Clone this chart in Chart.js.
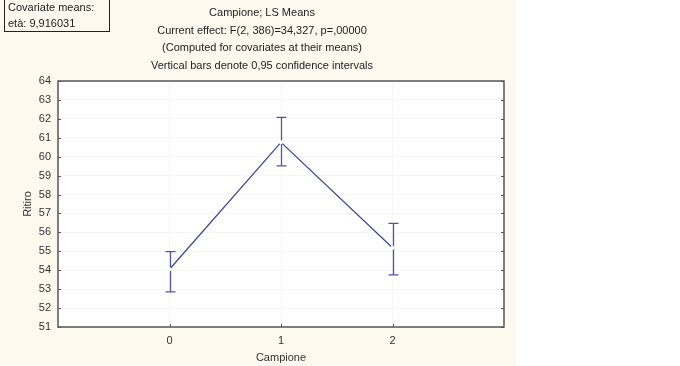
<!DOCTYPE html>
<html>
<head>
<meta charset="utf-8">
<script src="https://cdn.jsdelivr.net/npm/chart.js@4"></script>
<style>
  html, body { margin: 0; padding: 0; background: #fff; }
  canvas { display: block; }
</style>
</head>
<body>
<canvas id="chart" width="680" height="366"></canvas>
<script>
// Data
const categories = [0, 1, 2];
const means = [54.05, 60.76, 55.19];
const ciLow = [52.86, 59.51, 53.75];
const ciHigh = [54.98, 62.08, 56.48];
const yTicks = [51, 52, 53, 54, 55, 56, 57, 58, 59, 60, 61, 62, 63, 64];

const titleLines = [
  'Campione; LS Means',
  'Current effect: F(2, 386)=34,327, p=,00000',
  '(Computed for covariates at their means)',
  'Vertical bars denote 0,95 confidence intervals'
];
const noteLines = ['Covariate means:', 'età: 9,916031'];

const FONT = '11px "Liberation Sans", Arial, sans-serif';
const CREAM = '#fdf9ef';

// Background, header text and note box
const backdrop = {
  id: 'backdrop',
  beforeDraw(chart) {
    const { ctx, chartArea: a } = chart;
    ctx.save();
    ctx.fillStyle = CREAM;
    ctx.fillRect(0, 0, 516, chart.height);
    ctx.fillStyle = '#fff';
    ctx.fillRect(a.left, a.top, a.right - a.left, a.bottom - a.top);

    ctx.font = FONT;
    ctx.fillStyle = '#222';
    ctx.textAlign = 'center';
    ctx.textBaseline = 'middle';
    titleLines.forEach((t, i) => ctx.fillText(t, 262, 13 + i * 17.6));

    // covariate box
    ctx.strokeStyle = '#222';
    ctx.lineWidth = 1;
    ctx.strokeRect(4.5, -1.5, 105, 33);
    ctx.fillStyle = '#222';
    ctx.textAlign = 'left';
    noteLines.forEach((t, i) => ctx.fillText(t, 8, 8 + i * 16));
    ctx.restore();
  }
};

// Confidence interval whiskers
const whiskers = {
  id: 'whiskers',
  beforeDatasetsDraw(chart) {
    const { ctx, scales: { x, y } } = chart;
    ctx.save();
    ctx.strokeStyle = '#4d57a8';
    ctx.lineWidth = 1.3;
    categories.forEach((c, i) => {
      const px = Math.round(x.getPixelForValue(c)) + 0.5;
      const top = y.getPixelForValue(ciHigh[i]);
      const bot = y.getPixelForValue(ciLow[i]);
      ctx.beginPath();
      ctx.moveTo(px, top);
      ctx.lineTo(px, bot);
      ctx.moveTo(px - 5, top);
      ctx.lineTo(px + 5, top);
      ctx.moveTo(px - 5, bot);
      ctx.lineTo(px + 5, bot);
      ctx.stroke();
    });
    ctx.restore();
  }
};

// Plot frame and small inner tick marks
const frame = {
  id: 'frame',
  afterDraw(chart) {
    const { ctx, chartArea: a, scales: { x, y } } = chart;
    ctx.save();
    ctx.strokeStyle = '#555';
    ctx.lineWidth = 1.5;
    ctx.strokeRect(a.left, a.top, a.right - a.left, a.bottom - a.top);
    ctx.lineWidth = 1;
    ctx.beginPath();
    yTicks.forEach(v => {
      const py = Math.round(y.getPixelForValue(v)) + 0.5;
      ctx.moveTo(a.left, py); ctx.lineTo(a.left + 3, py);
      ctx.moveTo(a.right, py); ctx.lineTo(a.right - 3, py);
    });
    categories.forEach(c => {
      const px = Math.round(x.getPixelForValue(c)) + 0.5;
      ctx.moveTo(px, a.bottom); ctx.lineTo(px, a.bottom - 3);
    });
    ctx.stroke();
    ctx.restore();
  }
};

const tickFont = { family: '"Liberation Sans", Arial, sans-serif', size: 11 };

new Chart(document.getElementById('chart'), {
  type: 'line',
  data: {
    datasets: [{
      data: categories.map((c, i) => ({ x: c, y: means[i] })),
      borderColor: '#3d4a9c',
      borderWidth: 1.3,
      pointRadius: 2,
      pointBackgroundColor: '#fff',
      pointBorderWidth: 0,
      tension: 0
    }]
  },
  options: {
    responsive: false,
    devicePixelRatio: 1,
    animation: false,
    events: [],
    layout: { padding: { top: 81, right: 176, left: 0, bottom: 0 } },
    plugins: { legend: { display: false }, tooltip: { enabled: false } },
    scales: {
      x: {
        type: 'linear',
        min: -1,
        max: 3,
        afterBuildTicks: (s) => { s.ticks = categories.map(v => ({ value: v })); },
        afterFit: (s) => { s.height = 39; },
        grid: { color: '#f6f6f6', drawTicks: false, tickLength: 0 },
        border: { display: false },
        ticks: { color: '#333', font: tickFont, padding: 7 },
        title: { display: true, text: 'Campione', color: '#333', font: tickFont, padding: { top: 0, bottom: 1 } }
      },
      y: {
        min: 51,
        max: 64,
        afterBuildTicks: (s) => { s.ticks = yTicks.map(v => ({ value: v })); },
        afterFit: (s) => { s.width = 58; },
        grid: { color: '#f6f6f6', drawTicks: false, tickLength: 0 },
        border: { display: false },
        ticks: { color: '#333', font: tickFont, padding: 7 },
        title: { display: true, text: 'Ritiro', color: '#333', font: tickFont, padding: { top: 21, bottom: 0 } }
      }
    }
  },
  plugins: [backdrop, whiskers, frame]
});
</script>
</body>
</html>
